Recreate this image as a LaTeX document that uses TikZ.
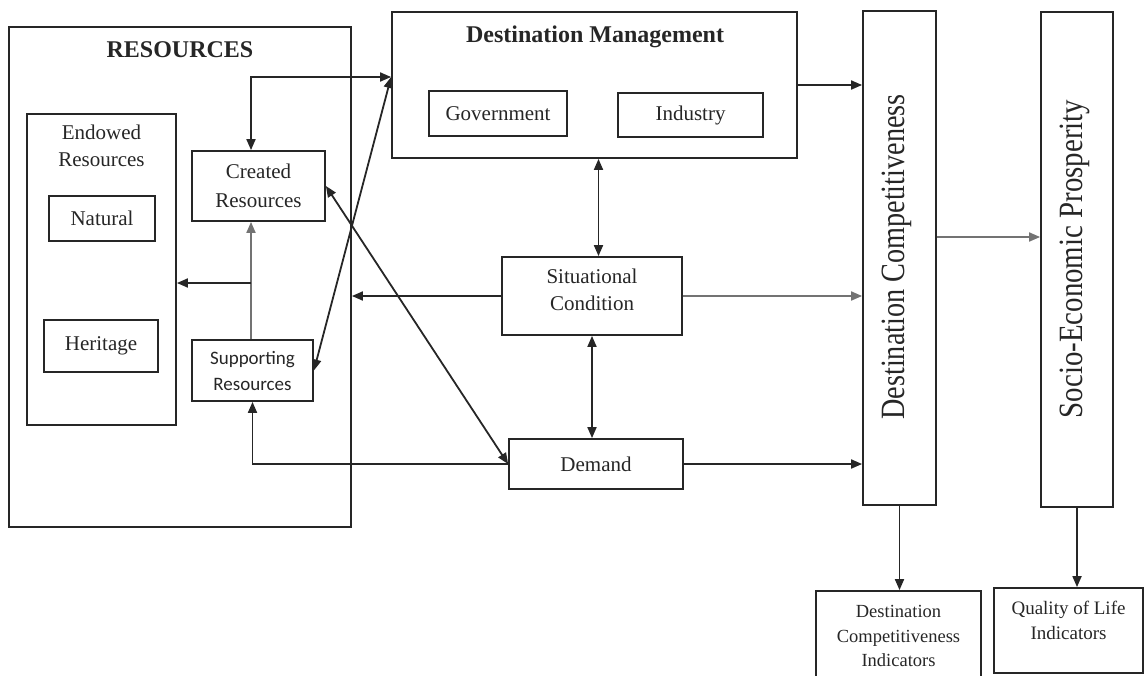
\documentclass[tikz,border=0pt]{standalone}
\usepackage{fontspec}
\setmainfont{Liberation Serif}
\newfontfamily\carlito{Carlito}
\usetikzlibrary{arrows.meta}

\begin{document}
\begin{tikzpicture}[x=1pt,y=-1pt,line width=1.8pt,color=black!85,
    box/.style={draw,rectangle,inner sep=0pt,align=center,
      font=\fontsize{21}{28}\selectfont},
    txt/.style={inner sep=0pt,align=center,font=\fontsize{21}{27}\selectfont},
    big/.style={inner sep=0pt,font=\bfseries\fontsize{24}{28}\selectfont},
    vert/.style={inner sep=0pt,rotate=90,font=\fontsize{34}{40}\selectfont},
    arr/.style={-{Triangle[length=11pt,width=9pt]}},
    dbl/.style={{Triangle[length=11pt,width=9pt]}-{Triangle[length=11pt,width=9pt]}},
    pale/.style={black!55}]
    \clip (0,0) rectangle (1145,675);
    % resources
    \node[box,minimum width=342,minimum height=500] (res) at (180,277) {};
    \node[big] (restitle) at (180,50) {RESOURCES};
    \node[box,minimum width=149,minimum height=311] (endow) at (101.5,269.5) {};
    \node[txt] (endowtxt) at (101.5,146) {Endowed\\Resources};
    \node[box,minimum width=106,minimum height=45] (natural) at (102,218.5) {Natural};
    \node[box,minimum width=114,minimum height=52] (heritage) at (101,346) {Heritage};
    \node[box,minimum width=133,minimum height=70] (created) at (258.5,186) {Created\\[1pt]Resources};
    \node[box,minimum width=121,minimum height=61,
      font=\carlito\fontsize{19}{26}\selectfont] (support) at (252.5,370.5) {Supporting\\Resources};
    % management, conditions, demand
    \node[box,minimum width=405,minimum height=146] (dm) at (594.5,85) {};
    \node[big] (dmtitle) at (595,37) {Destination Management};
    \node[box,minimum width=138,minimum height=45] (gov) at (498,113.5) {Government};
    \node[box,minimum width=145,minimum height=44] (ind) at (690.5,115) {Industry};
    \node[box,minimum width=180,minimum height=78] (sit) at (592,296) {};
    \node[txt] (sittxt) at (592,290) {Situational\\Condition};
    \node[box,minimum width=174,minimum height=50] (dem) at (596,464) {Demand};
    % outcomes
    \node[box,minimum width=73,minimum height=494] (dc) at (899.5,258) {};
    \node[vert] (dctxt) at (897,257) {\scalebox{0.83}[1]{Destination Competitiveness}};
    \node[box,minimum width=72,minimum height=495] (sep) at (1077,259.5) {};
    \node[vert] (septxt) at (1075,259) {\scalebox{0.85}[1]{Socio-Economic Prosperity}};
    \node[box,minimum width=165,minimum height=90,
      font=\fontsize{18.5}{24.5}\selectfont] (dci) at (898.5,636) {Destination\\Competitiveness\\Indicators};
    \node[box,minimum width=149,minimum height=85] (qol) at (1068.5,630.5) {};
    \node[txt,font=\fontsize{19}{25}\selectfont] (qoltxt) at (1068.5,620) {Quality of Life\\Indicators};

    \coordinate (ctop) at (251,77);
    \coordinate (branch) at (251,283);
    \draw[dbl] (ctop |- created.north) |- (dm.west |- ctop);
    \draw[arr,pale] (support.north -| ctop) -- (created.south -| ctop);
    \draw[arr] (branch) -- (endow.east |- branch);
    \draw[dbl] (support.east) -- (dm.west |- ctop);
    \draw[dbl] (created.east) -- (dem.west);
    \draw[arr] (sit.west) -- (res.east |- sit.west);
    \draw[arr] (dem.west) -| (support.south);
    \draw[dbl] ([xshift=4pt]dm.south) -- ([xshift=4pt]dm.south |- sit.north);
    \draw[dbl] (sit.south) -- (sit.south |- dem.north);
    \draw[arr] (dm.east) -- (dc.west |- dm.east);
    \draw[arr,pale] (sit.east) -- (dc.west |- sit.east);
    \draw[arr] (dem.east) -- (dc.west |- dem.east);
    \draw[arr,pale] ([yshift=21pt]dc.east) coordinate (dcout) -- (sep.west |- dcout);
    \draw[arr] (dc.south) -- (dc.south |- dci.north);
    \draw[arr] (sep.south) -- (sep.south |- qol.north);
\end{tikzpicture}
\end{document}
